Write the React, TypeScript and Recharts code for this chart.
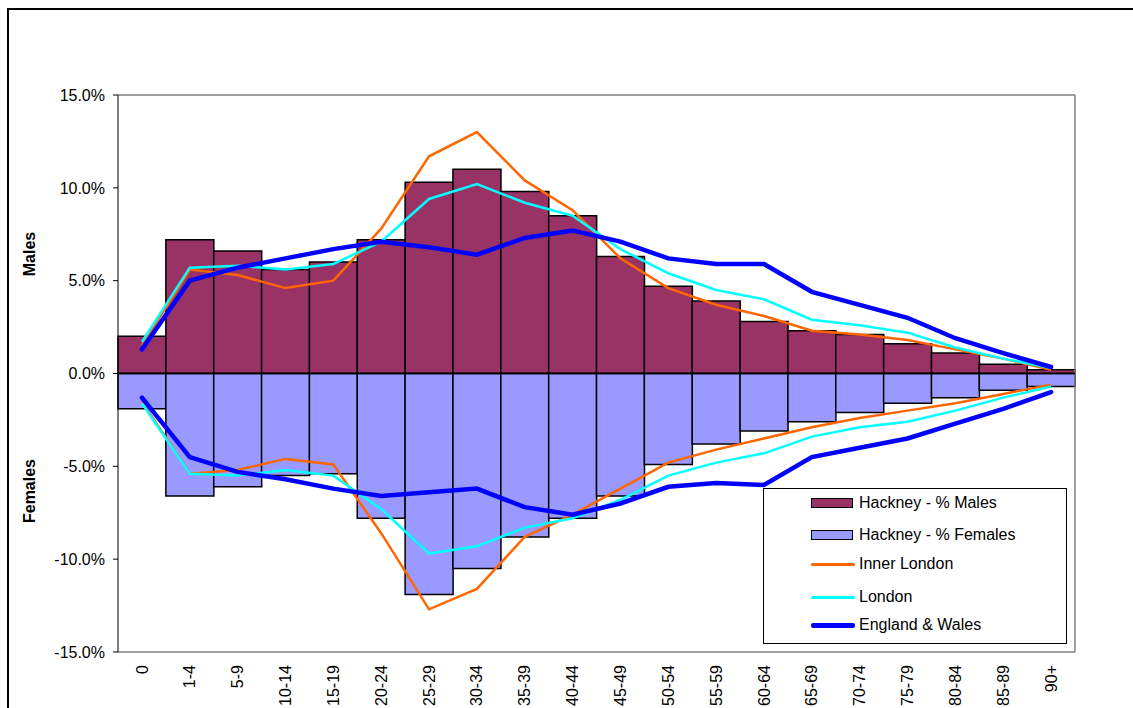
import {
  ComposedChart,
  Bar,
  Line,
  XAxis,
  YAxis,
  Legend,
  ReferenceLine,
} from 'recharts'

const FONT = '"Liberation Sans", Arial, sans-serif'

const ages = ['0', '1-4', '5-9', '10-14', '15-19', '20-24', '25-29', '30-34', '35-39', '40-44', '45-49', '50-54', '55-59', '60-64', '65-69', '70-74', '75-79', '80-84', '85-89', '90+']

const hackneyMales = [2.0, 7.2, 6.6, 5.6, 6.0, 7.2, 10.3, 11.0, 9.8, 8.5, 6.3, 4.7, 3.9, 2.8, 2.3, 2.1, 1.6, 1.1, 0.5, 0.2]
const hackneyFemales = [-1.9, -6.6, -6.1, -5.5, -5.4, -7.8, -11.9, -10.5, -8.8, -7.8, -6.6, -4.9, -3.8, -3.1, -2.6, -2.1, -1.6, -1.3, -0.9, -0.7]

const innerMales = [1.5, 5.6, 5.3, 4.6, 5.0, 7.8, 11.7, 13.0, 10.4, 8.8, 6.2, 4.6, 3.7, 3.1, 2.3, 2.1, 1.8, 1.3, 0.8, 0.2]
const innerFemales = [-1.5, -5.4, -5.2, -4.6, -4.9, -8.6, -12.7, -11.6, -8.8, -7.6, -6.2, -4.8, -4.1, -3.5, -2.9, -2.4, -2.0, -1.6, -1.1, -0.6]

const londonMales = [1.7, 5.7, 5.8, 5.6, 5.9, 7.1, 9.4, 10.2, 9.2, 8.5, 6.7, 5.4, 4.5, 4.0, 2.9, 2.6, 2.2, 1.4, 0.8, 0.3]
const londonFemales = [-1.6, -5.4, -5.5, -5.2, -5.5, -7.3, -9.7, -9.3, -8.3, -7.8, -6.8, -5.5, -4.8, -4.3, -3.4, -2.9, -2.6, -2.0, -1.3, -0.7]

const ewMales = [1.3, 5.0, 5.7, 6.2, 6.7, 7.1, 6.8, 6.4, 7.3, 7.7, 7.1, 6.2, 5.9, 5.9, 4.4, 3.7, 3.0, 1.9, 1.1, 0.35]
const ewFemales = [-1.3, -4.5, -5.3, -5.7, -6.2, -6.6, -6.4, -6.2, -7.2, -7.6, -7.0, -6.1, -5.9, -6.0, -4.5, -4.0, -3.5, -2.7, -1.9, -1.0]

const yTicks = [-15, -10, -5, 0, 5, 10, 15]

const COLORS = {
  males: '#993366',
  females: '#9999ff',
  inner: '#ff6600',
  london: '#00ffff',
  ew: '#0000ff',
}

const data = ages.map((age, i) => ({
  age,
  hm: hackneyMales[i],
  hf: hackneyFemales[i],
  im: innerMales[i],
  if: innerFemales[i],
  lm: londonMales[i],
  lf: londonFemales[i],
  em: ewMales[i],
  ef: ewFemales[i],
}))

const legendItems = [
  { label: 'Hackney - % Males', kind: 'bar', color: COLORS.males },
  { label: 'Hackney - % Females', kind: 'bar', color: COLORS.females },
  { label: 'Inner London', kind: 'line', color: COLORS.inner, width: 3 },
  { label: 'London', kind: 'line', color: COLORS.london, width: 3 },
  { label: 'England & Wales', kind: 'line', color: COLORS.ew, width: 5 },
]
const legendRows = [14, 45.5, 75, 108, 136]

function AgeTick({ x, y, payload }: any) {
  return (
    <text
      x={x}
      y={y}
      transform={`rotate(-90, ${x}, ${y})`}
      textAnchor="end"
      dy="0.35em"
      fontSize={16}
      fontFamily={FONT}
      fill="#000"
    >
      {payload.value}
    </text>
  )
}

function ChartLegend() {
  return (
    <div
      style={{
        position: 'relative',
        width: 304,
        height: 156,
        boxSizing: 'border-box',
        border: '1px solid #000',
        background: '#fff',
        fontFamily: FONT,
        fontSize: 16,
        color: '#000',
      }}
    >
      {legendItems.map((item, i) => (
        <div key={item.label} style={{ position: 'absolute', left: 0, top: legendRows[i] - 10, height: 20, width: '100%' }}>
          {item.kind === 'bar' ? (
            <div
              style={{
                position: 'absolute',
                left: 47,
                top: 5,
                width: 42,
                height: 10,
                boxSizing: 'border-box',
                border: '1.5px solid #000',
                background: item.color,
              }}
            />
          ) : (
            <div
              style={{
                position: 'absolute',
                left: 47,
                top: 10 - (item.width ?? 3) / 2,
                width: 44,
                height: item.width,
                borderRadius: 2,
                background: item.color,
              }}
            />
          )}
          <span style={{ position: 'absolute', left: 95, top: 0, lineHeight: '20px', whiteSpace: 'nowrap' }}>
            {item.label}
          </span>
        </div>
      ))}
    </div>
  )
}

export default function App() {
  return (
    <div
      style={{
        position: 'absolute',
        left: 0,
        top: 0,
        width: 1133,
        height: 708,
        overflow: 'hidden',
        background: '#fff',
      }}
    >
      <div
        style={{
          position: 'absolute',
          left: 7,
          top: 8,
          width: 1160,
          height: 740,
          border: '2px solid #000',
        }}
      />
      <ComposedChart
        width={1133}
        height={708}
        data={data}
        stackOffset="sign"
        barCategoryGap={0}
        barGap={0}
        margin={{ top: 95, right: 58, bottom: 0, left: 0 }}
        style={{ position: 'absolute', left: 0, top: 0 }}
      >
        <XAxis
          dataKey="age"
          interval={0}
          height={56}
          axisLine={{ stroke: '#808080', strokeWidth: 1.5 }}
          tickLine={false}
          tickSize={0}
          tickMargin={13}
          tick={<AgeTick />}
        />
        <YAxis
          domain={[-15, 15]}
          ticks={yTicks}
          width={118}
          axisLine={{ stroke: '#000', strokeWidth: 1 }}
          tickLine={{ stroke: '#000' }}
          tickSize={5}
          tickMargin={8}
          tickFormatter={(v: number) => `${v.toFixed(1)}%`}
          tick={{ fontSize: 16, fontFamily: FONT, fill: '#000' }}
        />
        <ReferenceLine y={15} stroke="#808080" strokeWidth={1.5} />
        <ReferenceLine x="90+" position="end" stroke="#808080" strokeWidth={1.5} />
        <Bar dataKey="hm" name="Hackney - % Males" stackId="h" fill={COLORS.males} stroke="#000" strokeWidth={1.5} isAnimationActive={false} />
        <Bar dataKey="hf" name="Hackney - % Females" stackId="h" fill={COLORS.females} stroke="#000" strokeWidth={1.5} isAnimationActive={false} />
        <ReferenceLine y={0} stroke="#000" strokeWidth={1.5} />
        <Line dataKey="im" name="Inner London" type="linear" stroke={COLORS.inner} strokeWidth={2.5} dot={false} activeDot={false} isAnimationActive={false} />
        <Line dataKey="if" name="Inner London" type="linear" stroke={COLORS.inner} strokeWidth={2.5} dot={false} activeDot={false} isAnimationActive={false} />
        <Line dataKey="lm" name="London" type="linear" stroke={COLORS.london} strokeWidth={2.5} dot={false} activeDot={false} isAnimationActive={false} />
        <Line dataKey="lf" name="London" type="linear" stroke={COLORS.london} strokeWidth={2.5} dot={false} activeDot={false} isAnimationActive={false} />
        <Line dataKey="em" name="England & Wales" type="linear" stroke={COLORS.ew} strokeWidth={4.5} strokeLinecap="round" dot={false} activeDot={false} isAnimationActive={false} />
        <Line dataKey="ef" name="England & Wales" type="linear" stroke={COLORS.ew} strokeWidth={4.5} strokeLinecap="round" dot={false} activeDot={false} isAnimationActive={false} />
        <Legend
          layout="vertical"
          align="center"
          verticalAlign="middle"
          wrapperStyle={{ left: 763, top: 488, width: 304, height: 156 }}
          content={() => <ChartLegend />}
        />
      </ComposedChart>
      <div
        style={{
          position: 'absolute',
          left: 30,
          top: 254,
          transform: 'translate(-50%, -50%) rotate(-90deg)',
          fontFamily: FONT,
          fontSize: 16,
          fontWeight: 'bold',
          whiteSpace: 'nowrap',
        }}
      >
        Males
      </div>
      <div
        style={{
          position: 'absolute',
          left: 30,
          top: 491,
          transform: 'translate(-50%, -50%) rotate(-90deg)',
          fontFamily: FONT,
          fontSize: 16,
          fontWeight: 'bold',
          whiteSpace: 'nowrap',
        }}
      >
        Females
      </div>
    </div>
  )
}
